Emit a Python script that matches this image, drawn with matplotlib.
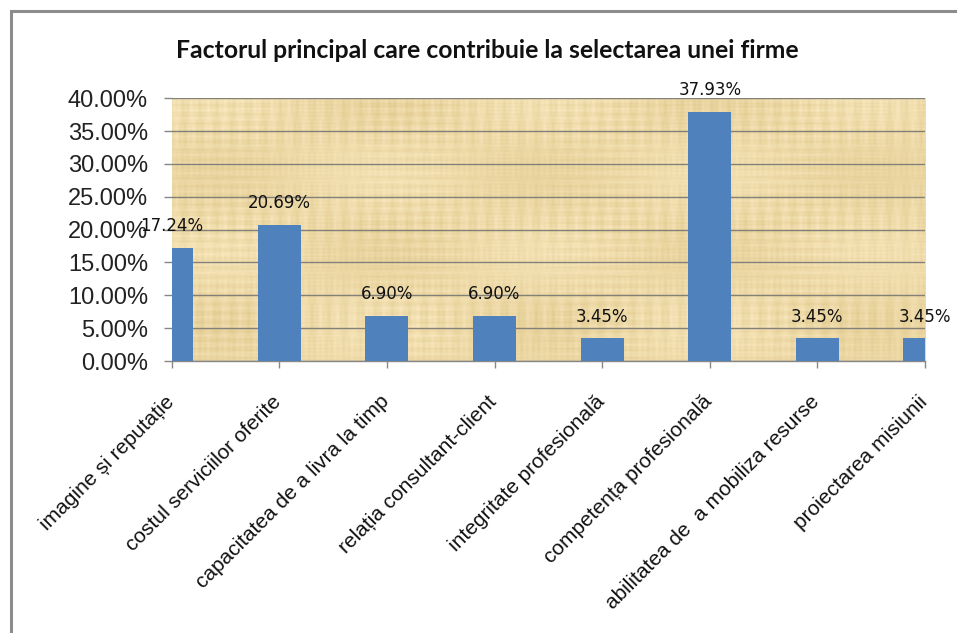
import matplotlib
matplotlib.use("Agg")
import matplotlib.pyplot as plt
import numpy as np
from matplotlib.patches import Rectangle
from matplotlib.transforms import ScaledTranslation

# Survey results: share of respondents naming each factor
categories = [
    "imagine și reputație",
    "costul serviciilor oferite",
    "capacitatea de a livra la timp",
    "relația consultant-client",
    "integritate profesională",
    "competența profesională",
    "abilitatea de  a mobiliza resurse",
    "proiectarea misiunii",
]
shares = [17.24, 20.69, 6.90, 6.90, 3.45, 37.93, 3.45, 3.45]
y_ticks = [0, 5, 10, 15, 20, 25, 30, 35, 40]
title = "Factorul principal care contribuie la selectarea unei firme"

W, H = 957, 633
fig = plt.figure(figsize=(W / 100, H / 100), dpi=100)
fig.patch.set_facecolor("white")

# outer chart frame (runs off the right and bottom edges)
fig.patches.append(Rectangle((11 / W, -0.1), 1.2, 1 - 11 / H + 0.1,
                             transform=fig.transFigure, fill=False,
                             edgecolor="#8c8c8c", linewidth=2.2))

left, right, top, bottom = 171.7, 925, 98.3, 361
ax = fig.add_axes([left / W, 1 - bottom / H, (right - left) / W, (bottom - top) / H])

# parchment-style plot-area fill: crossing horizontal/vertical fibres
nx, ny = 760, 265
gx = np.linspace(0, 1, nx)[None, :]
gy = np.linspace(0, 1, ny)[:, None]
streak = (0.45 * np.sin(2 * np.pi * 47 * gx) * (0.6 + 0.4 * np.sin(2 * np.pi * 2.7 * gy))
          + 0.30 * np.sin(2 * np.pi * 131 * gx) * np.sin(2 * np.pi * 4.3 * gy + 1.0)
          + 0.40 * np.sin(2 * np.pi * 29 * gy) * (0.6 + 0.4 * np.sin(2 * np.pi * 3.9 * gx))
          + 0.25 * np.sin(2 * np.pi * 71 * gy) * np.sin(2 * np.pi * 6.1 * gx + 0.5)
          + 0.50 * np.sin(2 * np.pi * 2.3 * gx + 0.7) * np.cos(2 * np.pi * 1.7 * gy))
base = np.array([238, 218, 168]) / 255.0
tint = np.array([9, 11, 17]) / 255.0
tex = np.clip(base[None, None, :] + streak[:, :, None] * tint[None, None, :], 0, 1)
ax.imshow(tex, extent=(0, len(categories) - 1, 0, 40), aspect="auto",
          zorder=0, interpolation="bilinear")

x = list(range(len(categories)))
ax.bar(x, shares, width=0.4, color="#4f81bd", zorder=3)
ax.set_xlim(0, len(categories) - 1)
ax.set_ylim(0, 40)

ax.set_yticks(y_ticks)
ax.set_yticklabels([f"{v:.2f}%" for v in y_ticks], fontsize=17,
                   family="Liberation Sans", color="#222222")
ax.yaxis.grid(True, color="#838078", linewidth=1.0)
for gl in ax.get_ygridlines():
    gl.set_zorder(1)

# category ticks with slanted labels hanging below the axis
ax.set_xticks(x)
ax.tick_params(axis="x", labelbottom=False, length=5, width=1, color="#878787")
label_tr = ax.get_xaxis_transform() + ScaledTranslation(6 / 100, -31 / 100,
                                                         fig.dpi_scale_trans)
for xi, name in zip(x, categories):
    ax.text(xi, 0, name, transform=label_tr, rotation=45, ha="right", va="top",
            fontsize=15, family="Liberation Sans", color="#111111", clip_on=False)

ax.tick_params(axis="y", length=6, width=1, color="#878787", pad=11)

for s in ("top", "right", "left"):
    ax.spines[s].set_visible(False)
ax.spines["bottom"].set_color("#878787")
ax.spines["bottom"].set_linewidth(1.0)

for xi, v in zip(x, shares):
    ax.annotate(f"{v:.2f}%", (xi, v), xytext=(0, 12), textcoords="offset points",
                ha="center", va="baseline", fontsize=12, family="DejaVu Sans",
                color="#111111", zorder=5, annotation_clip=False)

fig.text(487 / W, 1 - 50 / H, title, ha="center", va="center",
         fontsize=17.8, fontweight="bold", family="Lato", color="#111111")

fig.savefig("out.png", dpi=100)
